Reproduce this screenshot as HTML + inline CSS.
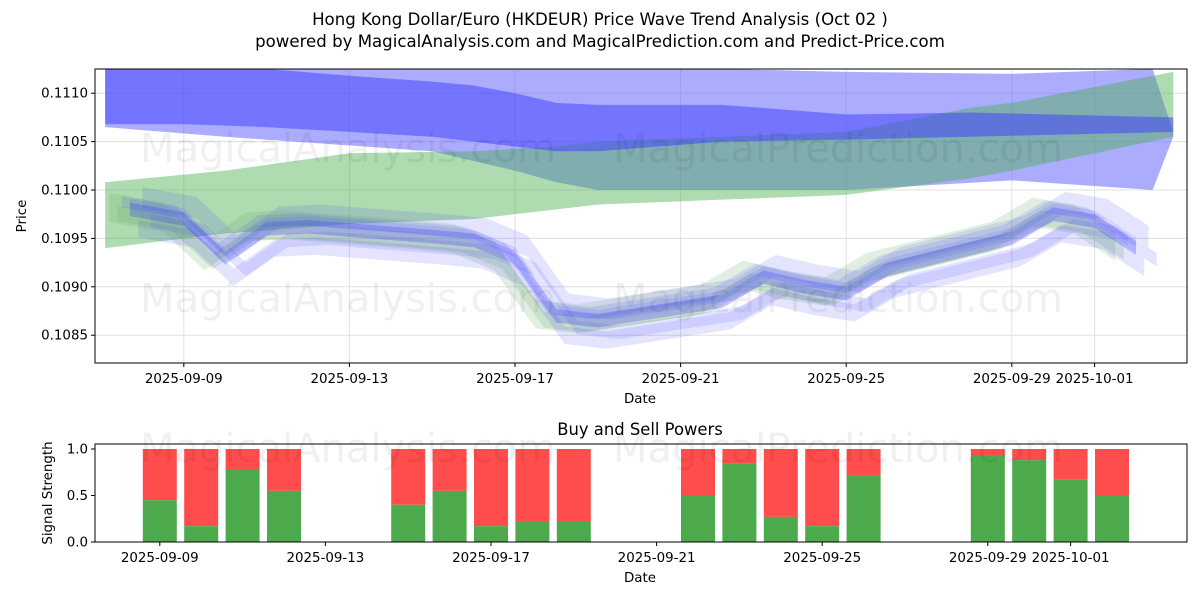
<!DOCTYPE html>
<html><head><meta charset="utf-8"><style>
body{margin:0;background:#fff;font-family:"Liberation Sans","DejaVu Sans",sans-serif}
svg text{font-family:"DejaVu Sans","Liberation Sans",sans-serif}
</style></head><body>
<svg id="c" width="1200" height="600" xmlns="http://www.w3.org/2000/svg"></svg>
<script>
// ---- data ----
const priceDays = [0.7,2,3,4,5,8,9,10,11,12,15,16,17,18,19,22,23,24,25];
const priceVals = [0.10980,0.10970,0.10930,0.10960,0.10962,0.10952,0.10948,0.10930,0.10870,0.10865,0.10885,0.10910,0.10900,0.10893,0.10918,0.10950,0.10975,0.10968,0.10940];
const bandADays = [0.1,2,4,6,8,9,10,11,12,15,18,21,25.9];
const bandAUp = [0.11135,0.11132,0.11125,0.11118,0.11112,0.11108,0.11100,0.11090,0.11088,0.11088,0.11078,0.11080,0.11075];
const bandALo = [0.11068,0.11068,0.11065,0.11060,0.11055,0.11050,0.11045,0.11040,0.11040,0.11050,0.11052,0.11055,0.11060];
const bandBDays = [0.1,3,8,10,11,12,15,18,22,25.4,25.9];
const bandBUp = [0.11135,0.11135,0.11133,0.11130,0.11128,0.11127,0.11125,0.11122,0.11120,0.11125,0.11060];
const bandBLo = [0.11065,0.11055,0.11040,0.11020,0.11008,0.11000,0.11000,0.11000,0.11010,0.11000,0.11055];
const greenDays = [0.1,3,6,9,11,12,15,18,21,22,25.9];
const greenUp = [0.11008,0.11020,0.11038,0.11040,0.11045,0.11050,0.11055,0.11060,0.11085,0.11090,0.11122];
const greenLo = [0.10940,0.10955,0.10965,0.10970,0.10980,0.10985,0.10990,0.10995,0.11012,0.11020,0.11055];
const waveOffsets = [0.00006,-0.00004,0.00012,-0.00012,0.00002,-0.00020,0.00008];
const waveWidths = [0.00010,0.00016,0.00022,0.00014,0.00030,0.00018,0.00012];
const waveShifts = [0,-0.3,0.3,0.5,-0.5,0.2,-0.2];
const tickLabels = ["2025-09-09","2025-09-13","2025-09-17","2025-09-21","2025-09-25","2025-09-29","2025-10-01"];
const tickDays = [2,6,10,14,18,22,24];
const yTicks = [0.1085,0.1090,0.1095,0.1100,0.1105,0.1110];
const barDays = [2,3,4,5,8,9,10,11,12,15,16,17,18,19,22,23,24,25];
const buyVals = [0.45,0.17,0.78,0.55,0.40,0.55,0.17,0.22,0.22,0.50,0.84,0.27,0.17,0.72,0.93,0.88,0.67,0.50];
const sTicks = [0,0.5,1.0];

const svg = document.getElementById('c');
const NS = 'http://www.w3.org/2000/svg';
function mk(tag, attrs, parent){const e=document.createElementNS(NS,tag);for(const k in attrs)e.setAttribute(k,attrs[k]);(parent||svg).appendChild(e);return e;}
const T={x0:95,x1:1187,y0:69,y1:363};
const xT = d => 101 + d*41.4;
const yT = v => 190 - (v-0.1100)/0.0005*48.4;
const B={x0:95,x1:1187,y0:444,y1:542};
const xB = d => 77 + d*41.4;
const yB = v => 542 - v*93;

function txt(x,y,s,size,anchor,name,extra){const t=mk('text',Object.assign({x:x,y:y,'font-size':size,'text-anchor':anchor||'middle',fill:'#000'},extra||{}));t.textContent=s;return t;}

txt(600,25,"Hong Kong Dollar/Euro (HKDEUR) Price Wave Trend Analysis (Oct 02 )",16.6,'middle','chart-title');
txt(600,47,"powered by MagicalAnalysis.com and MagicalPrediction.com and Predict-Price.com",16.6,'middle','chart-subtitle');

const defs=mk('defs',{});
const cp=mk('clipPath',{id:'cl'},defs);mk('rect',{x:T.x0,y:T.y0,width:T.x1-T.x0,height:T.y1-T.y0},cp);
const g=mk('g',{'clip-path':'url(#cl)'});


tickDays.forEach(d=>mk('line',{x1:xT(d),x2:xT(d),y1:T.y0,y2:T.y1,stroke:'#e0e0e0','stroke-width':1},g));
yTicks.forEach(v=>mk('line',{x1:T.x0,x2:T.x1,y1:yT(v),y2:yT(v),stroke:'#e0e0e0','stroke-width':1},g));

function band(days,up,lo,fill,op,name){
  let p=days.map((d,i)=>xT(d)+','+yT(up[i]));
  p=p.concat(days.map((d,i)=>xT(d)+','+yT(lo[i])).reverse());
  const e=mk('polygon',{points:p.join(' '),fill:fill,'fill-opacity':op},g);
  
}
band(bandBDays,bandBUp,bandBLo,'#5a5aff',0.5,'blue-band-wide');
band(greenDays,greenUp,greenLo,'#4caf50',0.45,'green-band');
band(bandADays,bandAUp,bandALo,'#3b3bff',0.5,'blue-band-upper');
waveOffsets.forEach((o,k)=>{
  const days=priceDays.map(d=>d+waveShifts[k]);
  const up=priceVals.map(v=>v+o+waveWidths[k]/2);
  const lo=priceVals.map(v=>v+o-waveWidths[k]/2);
  band(days,up,lo,k%3==1?'#6aa86a':'#4a4aff',k%3==1?0.2:0.15,'wave-band-'+k);
});
band(priceDays,priceVals.map(v=>v+0.00007),priceVals.map(v=>v-0.00007),'#4040ff',0.3,'price-core-band');

txt(348,162,"MagicalAnalysis.com",40,'middle','watermark',{fill:'#000','fill-opacity':0.06});
txt(838,162,"MagicalPrediction.com",40,'middle','watermark',{fill:'#000','fill-opacity':0.06});
txt(348,312,"MagicalAnalysis.com",40,'middle','watermark',{fill:'#000','fill-opacity':0.06});
txt(838,312,"MagicalPrediction.com",40,'middle','watermark',{fill:'#000','fill-opacity':0.06});

mk('rect',{x:T.x0,y:T.y0,width:T.x1-T.x0,height:T.y1-T.y0,fill:'none',stroke:'#000','stroke-width':1});
tickDays.forEach((d,i)=>{mk('line',{x1:xT(d),x2:xT(d),y1:T.y1,y2:T.y1+4,stroke:'#000'});txt(xT(d),T.y1+20,tickLabels[i],13.4,'middle','x-tick-label');});
yTicks.forEach(v=>{mk('line',{x1:T.x0-4,x2:T.x0,y1:yT(v),y2:yT(v),stroke:'#000'});txt(T.x0-7,yT(v)+4.5,v.toFixed(4),13.4,'end','y-tick-label');});
txt(640,403,"Date",13.4,'middle','x-axis-title');
txt(26,216,"Price",13.4,'middle','y-axis-title',{transform:'rotate(-90 26 216)'});

txt(640,435,"Buy and Sell Powers",16.4,'middle','subchart-title');
const gb=mk('g',{});
barDays.forEach((d,i)=>{
  const x=xB(d)-17;
  const r=mk('rect',{x:x,y:yB(1),width:34,height:yB(buyVals[i])-yB(1),fill:'#ff4c4c'},gb);
  
  const b=mk('rect',{x:x,y:yB(buyVals[i]),width:34,height:yB(0)-yB(buyVals[i]),fill:'#4caa4c'},gb);
  
});
txt(348,462,"MagicalAnalysis.com",40,'middle','watermark',{fill:'#000','fill-opacity':0.06});
txt(838,462,"MagicalPrediction.com",40,'middle','watermark',{fill:'#000','fill-opacity':0.06});
mk('rect',{x:B.x0,y:B.y0,width:B.x1-B.x0,height:B.y1-B.y0,fill:'none',stroke:'#000','stroke-width':1});
tickDays.forEach((d,i)=>{mk('line',{x1:xB(d),x2:xB(d),y1:B.y1,y2:B.y1+4,stroke:'#000'});txt(xB(d),B.y1+20,tickLabels[i],13.4,'middle','x-tick-label');});
sTicks.forEach(v=>{mk('line',{x1:B.x0-4,x2:B.x0,y1:yB(v),y2:yB(v),stroke:'#000'});txt(B.x0-7,yB(v)+4.5,v.toFixed(1),13.4,'end','y-tick-label');});
txt(640,582,"Date",13.4,'middle','x-axis-title');
txt(52,493,"Signal Strength",13.4,'middle','y-axis-title',{transform:'rotate(-90 52 493)'});
</script>
</body></html>
